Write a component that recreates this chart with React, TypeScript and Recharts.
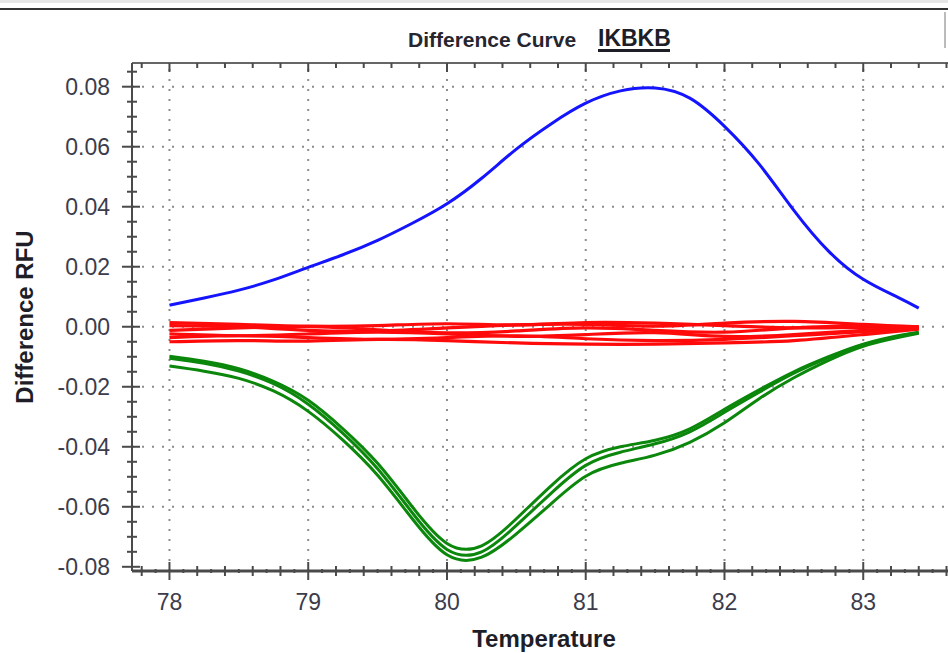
import { LineChart, Line, XAxis, YAxis, ReferenceLine } from "recharts";

// temperatures (°C) for the sample curves
const temps = [
  78, 78.25, 78.5, 78.75, 79, 79.25, 79.5, 79.75, 80, 80.25, 80.5, 80.75, 81,
  81.25, 81.5, 81.75, 82, 82.25, 82.5, 82.75, 83, 83.25, 83.4,
];

const blue = [
  0.0072, 0.0096, 0.0122, 0.0156, 0.0198, 0.0240, 0.0288, 0.0345, 0.0410,
  0.0495, 0.0592, 0.0676, 0.0745, 0.0786, 0.0796, 0.0762, 0.0668, 0.0542,
  0.0388, 0.0252, 0.0158, 0.0098, 0.0062,
];

const green1 = [
  -0.0098, -0.0115, -0.0140, -0.0182, -0.0245, -0.0340, -0.0455, -0.0600,
  -0.0722, -0.0730, -0.0640, -0.0530, -0.0440, -0.0400, -0.0378, -0.0340,
  -0.0275, -0.0210, -0.0150, -0.0100, -0.0058, -0.0030, -0.0018,
];
const green2 = [
  -0.0105, -0.0122, -0.0148, -0.0190, -0.0258, -0.0355, -0.0473, -0.0620,
  -0.0742, -0.0750, -0.0662, -0.0555, -0.0462, -0.0418, -0.0390, -0.0350,
  -0.0285, -0.0218, -0.0155, -0.0103, -0.0060, -0.0032, -0.0020,
];
const green3 = [
  -0.0131, -0.0148, -0.0172, -0.0214, -0.0282, -0.0378, -0.0495, -0.0640,
  -0.0760, -0.0768, -0.0690, -0.0590, -0.0498, -0.0455, -0.0428, -0.0385,
  -0.0320, -0.0240, -0.0170, -0.0112, -0.0065, -0.0036, -0.0022,
];

// red curves are sampled every half degree
const redTemps = [78, 78.5, 79, 79.5, 80, 80.5, 81, 81.5, 82, 82.5, 83, 83.4];
const red1 = [0.0014, 0.0008, 0.0002, 0.0004, 0.001, 0.0006, 0.0014, 0.0012, 0.0004, -0.0004, -0.0002, 0.0];
const red2 = [0.0004, 0.0, -0.0012, -0.0014, -0.0004, 0.0006, 0.0008, 0.0002, 0.0012, 0.0018, 0.0008, 0.0];
const red3 = [-0.0012, -0.0004, 0.0, -0.001, -0.002, -0.0014, -0.0004, -0.0012, -0.0018, -0.0004, 0.0002, -0.0002];
const red4 = [-0.0024, -0.003, -0.0024, -0.0018, -0.0024, -0.0032, -0.0026, -0.002, -0.0032, -0.0026, -0.0012, -0.0004];
const red5 = [-0.0036, -0.003, -0.0036, -0.0042, -0.0036, -0.003, -0.004, -0.0046, -0.0042, -0.003, -0.0016, -0.0006];
const red6 = [-0.005, -0.0046, -0.0048, -0.0042, -0.0046, -0.0054, -0.0058, -0.0058, -0.0054, -0.0046, -0.0026, -0.0008];

const xLabels = [78, 79, 80, 81, 82, 83];
const yLabels = [0.08, 0.06, 0.04, 0.02, 0, -0.02, -0.04, -0.06, -0.08];
const yGrid = [0.08, 0.06, 0.04, 0.02, 0, -0.02, -0.04, -0.06];

// minor ticks: every 0.1 °C and every 0.005 RFU
const xTicks: number[] = [];
for (let i = 778; i <= 840; i++) xTicks.push(i / 10);
const yTicks: number[] = [];
for (let i = -16; i <= 17; i++) yTicks.push(Math.round(i * 5) / 1000);

const toPoints = (xs: number[], ys: number[]) =>
  xs.map((t, i) => ({ t, v: ys[i] }));

const greens = [green1, green2, green3];
const reds = [red1, red2, red3, red4, red5, red6];

const TICK_COLOR = "#3c3c4c";
const AXIS_COLOR = "#4a4a4a";
const FONT = "'Liberation Sans', Arial, sans-serif";

const near = (a: number, b: number) => Math.abs(a - b) < 1e-6;

function BottomTick(props: any) {
  const { x, y, payload } = props;
  const v = payload.value;
  const major = xLabels.some((m) => near(m, v));
  const mid = near(v * 5, Math.round(v * 5));
  const len = major ? 9 : mid ? 5 : 2;
  return (
    <g>
      <line x1={x} x2={x} y1={y - len} y2={y + len} stroke={AXIS_COLOR} strokeWidth={2} />
      {major && (
        <text x={x} y={y + 39} textAnchor="middle" fill={TICK_COLOR} fontSize={23} fontFamily={FONT}>
          {v}
        </text>
      )}
    </g>
  );
}

function TopTick(props: any) {
  const { x, y, payload } = props;
  const v = payload.value;
  const major = xLabels.some((m) => near(m, v));
  const mid = near(v * 5, Math.round(v * 5));
  if (!major && !mid) return <g />;
  return <line x1={x} x2={x} y1={y} y2={y + (major ? 9 : 5)} stroke={AXIS_COLOR} strokeWidth={2} />;
}

function LeftTick(props: any) {
  const { x, y, payload } = props;
  const v = payload.value;
  const major = yLabels.some((m) => near(m, v));
  return (
    <g>
      <line
        x1={major ? x - 10 : x - 5}
        x2={major ? x + 8 : x + 5}
        y1={y}
        y2={y}
        stroke={AXIS_COLOR}
        strokeWidth={2}
      />
      {major && (
        <text x={x - 22} y={y + 8} textAnchor="end" fill={TICK_COLOR} fontSize={23} fontFamily={FONT}>
          {v.toFixed(2)}
        </text>
      )}
    </g>
  );
}

export default function App() {
  return (
    <div
      style={{
        position: "absolute",
        left: 0,
        top: 0,
        width: 948,
        height: 653,
        overflow: "hidden",
        background: "#fff",
      }}
    >
      <div style={{ position: "absolute", left: 0, top: 0, width: 948, height: 3, background: "#e6e6e6" }} />
      <div style={{ position: "absolute", left: 0, top: 8, width: 948, height: 2, background: "#333" }} />
      <div style={{ position: "absolute", left: 944, top: 12, width: 2, height: 36, background: "#bbb" }} />

      <div style={{ position: "absolute", left: 0, top: 0 }}>
        <LineChart width={1002} height={653} margin={{ top: 53, right: 0, bottom: 0, left: 0 }}>
          <XAxis
            xAxisId="b"
            type="number"
            dataKey="t"
            domain={[77.73, 84]}
            allowDataOverflow
            ticks={xTicks}
            interval={0}
            height={82}
            tickSize={0}
            tickMargin={0}
            tickLine={false}
            tick={(p: any) => <BottomTick {...p} />}
            axisLine={{ stroke: AXIS_COLOR, strokeWidth: 3 }}
          />
          <XAxis
            xAxisId="top"
            orientation="top"
            type="number"
            dataKey="t"
            domain={[77.73, 84]}
            allowDataOverflow
            ticks={xTicks}
            interval={0}
            height={10}
            tickSize={0}
            tickMargin={0}
            tickLine={false}
            tick={(p: any) => <TopTick {...p} />}
            axisLine={{ stroke: "#666", strokeWidth: 2 }}
          />
          <YAxis
            type="number"
            domain={[-0.0814, 0.0879]}
            allowDataOverflow
            ticks={yTicks}
            interval={0}
            width={132}
            tickSize={0}
            tickMargin={0}
            tickLine={false}
            tick={(p: any) => <LeftTick {...p} />}
            axisLine={{ stroke: AXIS_COLOR, strokeWidth: 2 }}
          />

          {yGrid.map((v) => (
            <ReferenceLine
              key={"h" + v}
              xAxisId="b"
              y={v}
              stroke="#8c8c8c"
              strokeWidth={2}
              strokeDasharray="2 8"
            />
          ))}
          {xLabels.map((v) => (
            <ReferenceLine
              key={"v" + v}
              xAxisId="b"
              x={v}
              stroke="#8c8c8c"
              strokeWidth={2}
              strokeDasharray="2 8"
            />
          ))}

          {greens.map((g, i) => (
            <Line
              key={"g" + i}
              xAxisId="b"
              data={toPoints(temps, g)}
              dataKey="v"
              type="natural"
              stroke="#0b870b"
              strokeWidth={3}
              dot={false}
              activeDot={false}
              isAnimationActive={false}
            />
          ))}
          {reds.map((r, i) => (
            <Line
              key={"r" + i}
              xAxisId="b"
              data={toPoints(redTemps, r)}
              dataKey="v"
              type="natural"
              stroke="#ff0a0a"
              strokeWidth={3.2}
              dot={false}
              activeDot={false}
              isAnimationActive={false}
            />
          ))}
          <Line
            xAxisId="b"
            data={toPoints(temps, blue)}
            dataKey="v"
            type="natural"
            stroke="#1414ff"
            strokeWidth={3}
            dot={false}
            activeDot={false}
            isAnimationActive={false}
          />
        </LineChart>
      </div>

      <svg width={948} height={653} style={{ position: "absolute", left: 0, top: 0, pointerEvents: "none" }}>
        <text x={408} y={47} fontSize={21} fontWeight="bold" fill="#262630" fontFamily={FONT}>
          Difference Curve
        </text>
        <text x={598} y={46} fontSize={23} fontWeight="bold" fill="#1e1e28" fontFamily={FONT}>
          IKBKB
        </text>
        <rect x={598} y={49} width={72} height={3} fill="#1e1e28" />
        <text
          x={544}
          y={647}
          textAnchor="middle"
          fontSize={24}
          fontWeight="bold"
          fill="#1e1e28"
          fontFamily={FONT}
        >
          Temperature
        </text>
        <text
          transform="translate(33,317) rotate(-90)"
          textAnchor="middle"
          fontSize={24}
          fontWeight="bold"
          fill="#1e1e28"
          fontFamily={FONT}
        >
          Difference RFU
        </text>
      </svg>
    </div>
  );
}
